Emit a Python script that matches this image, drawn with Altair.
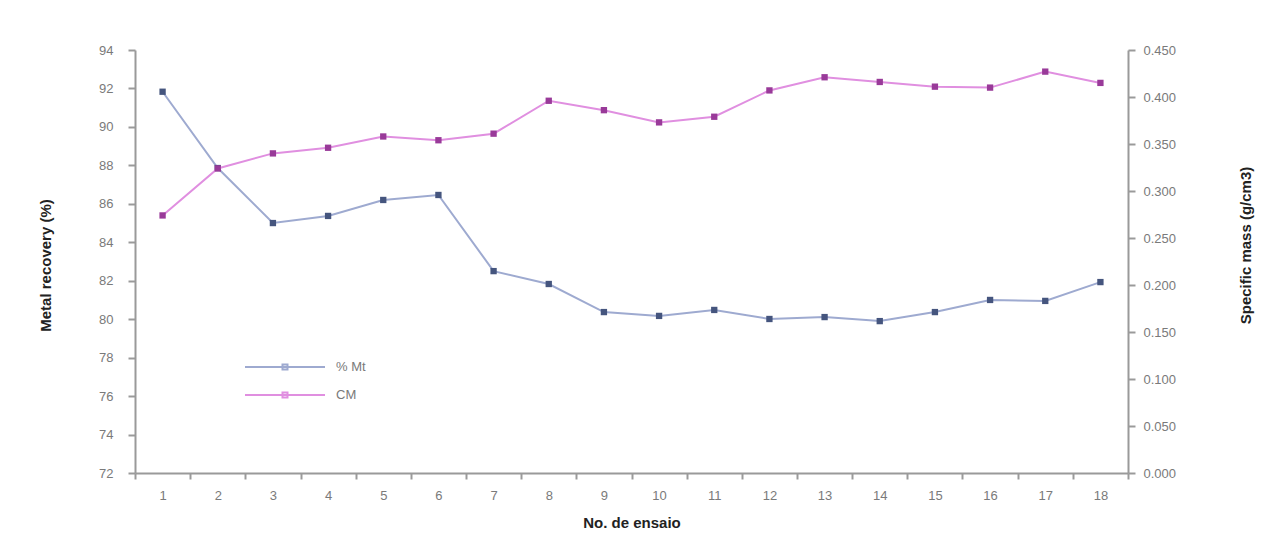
import altair as alt
import pandas as pd

tests = list(range(1, 19))
series_names = ["% Mt", "CM"]
mt_values = [91.83, 87.86, 85.0, 85.37, 86.2, 86.46, 82.5, 81.83, 80.37, 80.17,
             80.48, 80.01, 80.11, 79.9, 80.37, 81.0, 80.95, 81.93]
cm_values = [0.274, 0.324, 0.340, 0.346, 0.358, 0.354, 0.361, 0.396, 0.386, 0.373,
             0.379, 0.407, 0.421, 0.416, 0.411, 0.410, 0.427, 0.415]
left_ticks = list(range(72, 95, 2))
right_ticks = [0.0, 0.05, 0.10, 0.15, 0.20, 0.25, 0.30, 0.35, 0.40, 0.45]

line_colors = ["#9eaad0", "#e08fe0"]
marker_colors = ["#45557e", "#993a99"]

rows = []
for t, a, b in zip(tests, mt_values, cm_values):
    rows.append({"test": t, "series": series_names[0], "value": a})
    rows.append({"test": t, "series": series_names[1], "value": b})
df = pd.DataFrame(rows)

FONT = "Liberation Sans"
AX_GRAY = "#9a9a9a"
LBL_GRAY = "#7a7a7a"

x_enc = alt.X(
    "test:O",
    scale=alt.Scale(type="band", paddingInner=0, paddingOuter=0),
    axis=alt.Axis(
        title="No. de ensaio", labelAngle=0, tickBand="extent",
        domainColor=AX_GRAY, domainWidth=2, tickColor=AX_GRAY, tickWidth=2, tickSize=6,
        labelColor=LBL_GRAY, labelFontSize=13, labelFont=FONT, labelPadding=10,
        titleFontSize=15, titleFont=FONT, titleFontWeight="bold", titleColor="#222",
        titleY=49, titleBaseline="middle",
    ),
)

color_enc = alt.Color(
    "series:N",
    scale=alt.Scale(domain=series_names, range=line_colors),
    legend=alt.Legend(
        title=None, orient="none", legendX=139, legendY=306,
        symbolType="M-4,0L4,0M-0.25,-0.25H0.25V0.25H-0.25Z", symbolSize=400,
        symbolStrokeWidth=2, labelFontSize=13, labelFont=FONT, labelColor=LBL_GRAY,
        labelOffset=40, rowPadding=10,
    ),
)

base = alt.Chart(df)

y_left = alt.Y(
    "value:Q",
    scale=alt.Scale(domain=[72, 94], nice=False, zero=False),
    axis=alt.Axis(
        title="Metal recovery (%)", values=left_ticks, grid=False, orient="left",
        domainColor=AX_GRAY, domainWidth=2, tickColor=AX_GRAY, tickWidth=2, tickSize=7,
        labelColor=LBL_GRAY, labelFontSize=13, labelFont=FONT, labelPadding=15,
        titleFontSize=15, titleFont=FONT, titleFontWeight="bold", titleColor="#222",
        titleX=-90, titleY=215, titleAngle=-90, titleBaseline="middle", titleAlign="center",
    ),
)

y_right = alt.Y(
    "value:Q",
    scale=alt.Scale(domain=[0, 0.45], nice=False),
    axis=alt.Axis(
        title="Specific mass (g/cm3)", values=right_ticks, grid=False, orient="right",
        format=".3f",
        domainColor=AX_GRAY, domainWidth=2, tickColor=AX_GRAY, tickWidth=2, tickSize=7,
        labelColor=LBL_GRAY, labelFontSize=13, labelFont=FONT, labelPadding=8,
        titleFontSize=15, titleFont=FONT, titleFontWeight="bold", titleColor="#222",
        titleX=117, titleY=195, titleAngle=-90, titleBaseline="middle", titleAlign="center",
    ),
)

mt_base = base.transform_filter(alt.datum.series == series_names[0])
cm_base = base.transform_filter(alt.datum.series == series_names[1])

mt_line = mt_base.mark_line(strokeWidth=2).encode(x=x_enc, y=y_left, color=color_enc)
mt_pts = mt_base.mark_point(shape="square", filled=True, size=40, opacity=1,
                            color=marker_colors[0]).encode(x=x_enc, y=y_left)
cm_line = cm_base.mark_line(strokeWidth=2).encode(x=x_enc, y=y_right, color=color_enc)
cm_pts = cm_base.mark_point(shape="square", filled=True, size=40, opacity=1,
                            color=marker_colors[1]).encode(x=x_enc, y=y_right)

left = alt.layer(mt_line, mt_pts)
right = alt.layer(cm_line, cm_pts)

chart = (
    alt.layer(left, right)
    .resolve_scale(y="independent")
    .properties(
        width=993, height=423,
        autosize=alt.AutoSizeParams(type="none"),
        padding={"left": 127, "top": 42, "right": 133, "bottom": 57},
        background="white",
    )
    .configure_view(stroke=None)
)

chart.save("out.html", embed_options={"renderer": "svg", "actions": False})
